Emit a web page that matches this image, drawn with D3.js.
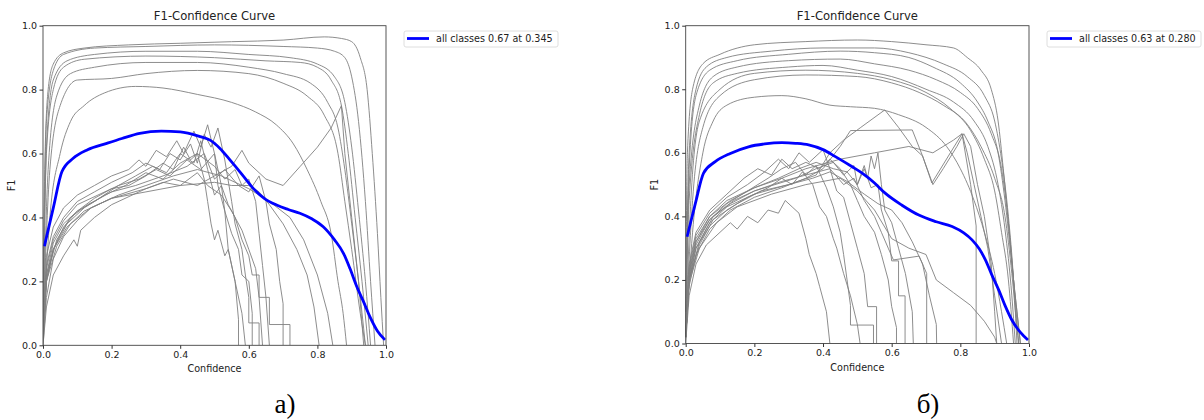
<!DOCTYPE html>
<html>
<head>
<meta charset="utf-8">
<title>F1-Confidence Curves</title>
<script src="https://cdnjs.cloudflare.com/ajax/libs/d3/7.8.5/d3.min.js"></script>
<style>
  body { margin: 0; background: #fff; }
  svg { display: block; }
  .tick text { font-family: "DejaVu Sans", sans-serif; font-size: 9.5px; fill: #222; }
  .tick line { stroke: #333; }
</style>
</head>
<body>
<svg id="chart" width="1204" height="420"></svg>
<script>
// ---- data: [confidence, F1] ----
const ticks = [0, 0.2, 0.4, 0.6, 0.8, 1.0];
const panelLabels = ["а)", "б)"];
const legendA = "all classes 0.67 at 0.345";
const legendB = "all classes 0.63 at 0.280";

const allA = [[0.004,0.31],[0.03,0.43],[0.055,0.543],[0.088,0.585],[0.13,0.612],[0.186,0.632],[0.23,0.647],[0.282,0.663],[0.345,0.67],[0.4,0.668],[0.458,0.653],[0.487,0.642],[0.516,0.616],[0.545,0.58],[0.58,0.535],[0.613,0.491],[0.645,0.46],[0.681,0.439],[0.715,0.425],[0.749,0.413],[0.785,0.395],[0.817,0.371],[0.85,0.33],[0.876,0.288],[0.895,0.24],[0.915,0.183],[0.935,0.135],[0.953,0.09],[0.975,0.045],[0.997,0.017]];

const allB = [[0.004,0.336],[0.028,0.44],[0.052,0.536],[0.086,0.572],[0.13,0.598],[0.183,0.619],[0.23,0.628],[0.28,0.632],[0.32,0.63],[0.358,0.625],[0.4,0.61],[0.436,0.588],[0.485,0.556],[0.514,0.536],[0.55,0.505],[0.581,0.473],[0.63,0.435],[0.679,0.404],[0.73,0.383],[0.776,0.368],[0.81,0.348],[0.834,0.326],[0.855,0.298],[0.873,0.263],[0.892,0.215],[0.912,0.168],[0.93,0.12],[0.95,0.074],[0.975,0.035],[0.997,0.011]];

const classesA = [
  [[0,0.05],[0.005,0.55],[0.015,0.8],[0.03,0.88],[0.06,0.915],[0.12,0.93],[0.25,0.94],[0.4,0.945],[0.55,0.95],[0.7,0.955],[0.82,0.965],[0.87,0.96],[0.9,0.95],[0.925,0.9],[0.945,0.8],[0.96,0.6],[0.975,0.35],[0.985,0.15],[0.993,0]],
  [[0,0.1],[0.01,0.7],[0.03,0.86],[0.06,0.91],[0.15,0.93],[0.3,0.935],[0.5,0.94],[0.7,0.935],[0.8,0.93],[0.85,0.92],[0.88,0.9],[0.9,0.84],[0.92,0.7],[0.94,0.45],[0.955,0.2],[0.968,0]],
  [[0,0.08],[0.01,0.62],[0.03,0.83],[0.07,0.89],[0.15,0.91],[0.3,0.92],[0.45,0.92],[0.6,0.91],[0.72,0.9],[0.8,0.88],[0.85,0.84],[0.88,0.76],[0.9,0.62],[0.92,0.42],[0.94,0.2],[0.955,0]],
  [[0,0.05],[0.01,0.6],[0.03,0.8],[0.06,0.87],[0.12,0.895],[0.3,0.905],[0.5,0.9],[0.65,0.89],[0.75,0.885],[0.8,0.87],[0.84,0.83],[0.87,0.75],[0.89,0.6],[0.91,0.4],[0.93,0.2],[0.948,0]],
  [[0,0.05],[0.015,0.55],[0.04,0.78],[0.08,0.85],[0.15,0.87],[0.3,0.885],[0.45,0.885],[0.6,0.87],[0.7,0.85],[0.78,0.82],[0.83,0.76],[0.86,0.68],[0.88,0.55],[0.9,0.38],[0.92,0.2],[0.94,0]],
  [[0,0.05],[0.02,0.55],[0.05,0.75],[0.1,0.83],[0.2,0.835],[0.3,0.85],[0.45,0.86],[0.6,0.85],[0.7,0.82],[0.77,0.78],[0.82,0.72],[0.86,0.6],[0.88,0.45],[0.9,0.3],[0.925,0.1],[0.94,0]],
  [[0,0.02],[0.02,0.4],[0.05,0.6],[0.08,0.7],[0.12,0.75],[0.18,0.79],[0.27,0.81],[0.35,0.805],[0.45,0.785],[0.55,0.76],[0.62,0.73],[0.68,0.69],[0.73,0.63],[0.77,0.55],[0.81,0.45],[0.84,0.35],[0.86,0.2],[0.875,0.1],[0.885,0]],
  [[0,0.05],[0.01,0.28],[0.03,0.37],[0.06,0.43],[0.1,0.47],[0.15,0.5],[0.2,0.53],[0.25,0.55],[0.28,0.58],[0.3,0.56],[0.33,0.61],[0.36,0.59],[0.39,0.64],[0.41,0.6],[0.44,0.67],[0.46,0.62],[0.48,0.69],[0.5,0.6],[0.51,0.5],[0.53,0.42],[0.54,0.3],[0.56,0.2],[0.57,0.08],[0.57,0]],
  [[0,0.04],[0.01,0.25],[0.03,0.34],[0.06,0.4],[0.1,0.45],[0.15,0.48],[0.2,0.51],[0.26,0.54],[0.3,0.57],[0.34,0.55],[0.37,0.6],[0.4,0.58],[0.43,0.63],[0.45,0.57],[0.47,0.66],[0.49,0.62],[0.51,0.68],[0.53,0.58],[0.55,0.45],[0.56,0.38],[0.58,0.3],[0.59,0.22],[0.6,0.15],[0.6,0.07],[0.63,0.07],[0.63,0]],
  [[0,0.03],[0.01,0.22],[0.03,0.32],[0.06,0.38],[0.1,0.42],[0.15,0.46],[0.2,0.49],[0.25,0.5],[0.3,0.53],[0.35,0.57],[0.38,0.55],[0.41,0.62],[0.43,0.58],[0.45,0.6],[0.47,0.52],[0.48,0.45],[0.49,0.38],[0.5,0.33],[0.51,0.36],[0.53,0.28],[0.54,0.3],[0.56,0.2],[0.58,0.1],[0.59,0]],
  [[0,0.02],[0.01,0.2],[0.03,0.3],[0.06,0.37],[0.1,0.42],[0.15,0.45],[0.22,0.5],[0.28,0.52],[0.33,0.55],[0.37,0.53],[0.42,0.58],[0.46,0.55],[0.5,0.6],[0.52,0.5],[0.54,0.44],[0.56,0.4],[0.58,0.33],[0.6,0.28],[0.61,0.22],[0.63,0.22],[0.63,0.15],[0.66,0.15],[0.66,0.065],[0.72,0.065],[0.72,0]],
  [[0,0.02],[0.01,0.22],[0.03,0.3],[0.07,0.38],[0.12,0.43],[0.18,0.47],[0.24,0.5],[0.3,0.54],[0.35,0.52],[0.4,0.57],[0.45,0.6],[0.5,0.56],[0.53,0.52],[0.56,0.55],[0.58,0.5],[0.6,0.52],[0.62,0.45],[0.63,0.35],[0.64,0.25],[0.65,0.15],[0.66,0]],
  [[0,0.02],[0.01,0.2],[0.03,0.3],[0.07,0.37],[0.12,0.42],[0.2,0.46],[0.3,0.49],[0.38,0.52],[0.45,0.5],[0.55,0.56],[0.58,0.61],[0.6,0.57],[0.65,0.52],[0.7,0.5],[0.75,0.56],[0.8,0.62],[0.84,0.68],[0.87,0.75],[0.88,0.6],[0.9,0.4],[0.92,0.2],[0.935,0]],
  [[0,0],[0.01,0.15],[0.03,0.27],[0.06,0.34],[0.1,0.39],[0.14,0.43],[0.2,0.46],[0.3,0.48],[0.4,0.5],[0.5,0.51],[0.55,0.5],[0.6,0.5],[0.63,0.48],[0.66,0.44],[0.7,0.38],[0.74,0.3],[0.77,0.22],[0.79,0.12],[0.805,0]],
  [[0,0],[0.01,0.12],[0.03,0.22],[0.06,0.28],[0.09,0.33],[0.1,0.31],[0.11,0.36],[0.15,0.4],[0.2,0.44],[0.26,0.47],[0.3,0.49],[0.35,0.51],[0.4,0.5],[0.45,0.54],[0.48,0.5],[0.52,0.47],[0.55,0.42],[0.58,0.36],[0.6,0.3],[0.62,0.24],[0.63,0.15],[0.64,0]],
  [[0,0.03],[0.01,0.24],[0.03,0.33],[0.06,0.39],[0.1,0.44],[0.16,0.47],[0.22,0.5],[0.27,0.53],[0.32,0.56],[0.36,0.54],[0.4,0.6],[0.44,0.57],[0.46,0.64],[0.48,0.55],[0.5,0.47],[0.52,0.5],[0.53,0.42],[0.55,0.35],[0.57,0.3],[0.58,0.22],[0.6,0.2],[0.61,0.1],[0.61,0]],
  [[0,0.02],[0.01,0.21],[0.04,0.33],[0.08,0.4],[0.13,0.44],[0.2,0.48],[0.27,0.5],[0.35,0.53],[0.42,0.56],[0.47,0.6],[0.5,0.52],[0.53,0.55],[0.57,0.5],[0.6,0.48],[0.63,0.53],[0.65,0.45],[0.66,0.38],[0.68,0.3],[0.69,0.2],[0.7,0.13],[0.7,0]],
  [[0,0.02],[0.01,0.2],[0.04,0.31],[0.08,0.38],[0.14,0.43],[0.22,0.47],[0.3,0.5],[0.38,0.53],[0.45,0.55],[0.52,0.53],[0.6,0.49],[0.66,0.45],[0.72,0.4],[0.76,0.33],[0.8,0.22],[0.83,0.1],[0.845,0]]
];

const classesB = [
  [[0,0.1],[0.005,0.6],[0.02,0.8],[0.05,0.88],[0.1,0.91],[0.2,0.94],[0.35,0.95],[0.5,0.955],[0.6,0.95],[0.7,0.94],[0.78,0.93],[0.82,0.9],[0.86,0.86],[0.89,0.8],[0.91,0.7],[0.925,0.55],[0.94,0.38],[0.955,0.2],[0.97,0.05],[0.975,0]],
  [[0,0.1],[0.01,0.6],[0.03,0.8],[0.06,0.87],[0.12,0.9],[0.25,0.92],[0.4,0.93],[0.55,0.93],[0.65,0.915],[0.75,0.88],[0.82,0.84],[0.87,0.78],[0.9,0.7],[0.92,0.58],[0.94,0.4],[0.955,0.2],[0.965,0]],
  [[0,0.08],[0.01,0.55],[0.03,0.78],[0.07,0.86],[0.15,0.89],[0.3,0.91],[0.45,0.92],[0.55,0.915],[0.65,0.9],[0.72,0.87],[0.8,0.82],[0.85,0.76],[0.88,0.7],[0.91,0.6],[0.93,0.45],[0.95,0.25],[0.965,0.1],[0.975,0]],
  [[0,0.06],[0.01,0.5],[0.04,0.75],[0.08,0.84],[0.15,0.87],[0.3,0.89],[0.45,0.895],[0.55,0.88],[0.65,0.86],[0.73,0.83],[0.8,0.79],[0.85,0.74],[0.89,0.66],[0.92,0.55],[0.94,0.38],[0.955,0.2],[0.97,0]],
  [[0,0.05],[0.01,0.45],[0.04,0.72],[0.08,0.82],[0.15,0.85],[0.3,0.87],[0.4,0.875],[0.5,0.86],[0.6,0.84],[0.7,0.8],[0.78,0.76],[0.84,0.7],[0.88,0.62],[0.91,0.5],[0.93,0.36],[0.95,0.15],[0.96,0]],
  [[0,0.05],[0.015,0.45],[0.04,0.7],[0.1,0.8],[0.2,0.85],[0.35,0.86],[0.5,0.85],[0.6,0.83],[0.7,0.79],[0.77,0.74],[0.83,0.67],[0.87,0.58],[0.9,0.48],[0.92,0.35],[0.94,0.2],[0.955,0]],
  [[0,0.04],[0.02,0.45],[0.05,0.68],[0.1,0.78],[0.2,0.83],[0.35,0.845],[0.5,0.84],[0.6,0.82],[0.68,0.79],[0.75,0.75],[0.82,0.69],[0.86,0.62],[0.9,0.52],[0.93,0.4],[0.95,0.22],[0.965,0.05],[0.97,0]],
  [[0,0.02],[0.02,0.35],[0.05,0.6],[0.08,0.7],[0.12,0.75],[0.2,0.775],[0.28,0.78],[0.35,0.77],[0.42,0.75],[0.48,0.745],[0.55,0.74],[0.62,0.72],[0.7,0.68],[0.76,0.62],[0.8,0.55],[0.84,0.45],[0.87,0.35],[0.9,0.22],[0.92,0.1],[0.935,0]],
  [[0,0],[0.01,0.15],[0.03,0.25],[0.06,0.31],[0.1,0.35],[0.13,0.38],[0.15,0.36],[0.18,0.4],[0.21,0.38],[0.24,0.42],[0.27,0.41],[0.29,0.45],[0.31,0.43],[0.33,0.41],[0.35,0.33],[0.36,0.28],[0.38,0.22],[0.39,0.18],[0.41,0.1],[0.42,0]],
  [[0,0.02],[0.01,0.2],[0.03,0.3],[0.07,0.37],[0.12,0.42],[0.18,0.46],[0.24,0.49],[0.28,0.52],[0.31,0.5],[0.34,0.54],[0.37,0.5],[0.39,0.43],[0.41,0.4],[0.43,0.33],[0.44,0.3],[0.46,0.22],[0.48,0.15],[0.5,0.06],[0.508,0]],
  [[0,0.02],[0.01,0.22],[0.03,0.32],[0.07,0.39],[0.12,0.44],[0.18,0.48],[0.24,0.52],[0.28,0.55],[0.32,0.57],[0.35,0.53],[0.38,0.56],[0.41,0.49],[0.43,0.43],[0.45,0.35],[0.46,0.28],[0.47,0.2],[0.48,0.12],[0.48,0.058],[0.547,0.058],[0.547,0]],
  [[0,0.03],[0.01,0.24],[0.03,0.34],[0.07,0.41],[0.12,0.46],[0.18,0.5],[0.23,0.54],[0.27,0.58],[0.3,0.55],[0.33,0.6],[0.36,0.57],[0.4,0.61],[0.42,0.55],[0.44,0.48],[0.46,0.46],[0.48,0.38],[0.5,0.3],[0.52,0.22],[0.53,0.116],[0.556,0.116],[0.556,0]],
  [[0,0.03],[0.01,0.25],[0.03,0.35],[0.07,0.42],[0.12,0.47],[0.17,0.52],[0.21,0.55],[0.25,0.53],[0.28,0.58],[0.31,0.55],[0.35,0.57],[0.39,0.55],[0.42,0.58],[0.45,0.55],[0.48,0.5],[0.5,0.45],[0.52,0.4],[0.55,0.35],[0.57,0.28],[0.59,0.2],[0.6,0.116],[0.614,0.05],[0.614,0]],
  [[0,0.02],[0.01,0.2],[0.04,0.32],[0.08,0.4],[0.14,0.45],[0.2,0.48],[0.26,0.5],[0.32,0.52],[0.38,0.55],[0.43,0.57],[0.46,0.53],[0.49,0.56],[0.5,0.5],[0.52,0.55],[0.54,0.49],[0.56,0.5],[0.57,0.42],[0.59,0.35],[0.6,0.26],[0.62,0.26],[0.62,0.15],[0.639,0.15],[0.639,0]],
  [[0,0.03],[0.01,0.23],[0.03,0.33],[0.07,0.4],[0.12,0.45],[0.2,0.49],[0.27,0.52],[0.33,0.55],[0.38,0.57],[0.43,0.55],[0.47,0.54],[0.5,0.5],[0.52,0.56],[0.53,0.52],[0.54,0.59],[0.55,0.55],[0.56,0.6],[0.57,0.5],[0.58,0.42],[0.6,0.38],[0.62,0.3],[0.64,0.22],[0.66,0.1],[0.663,0]],
  [[0,0.02],[0.01,0.2],[0.03,0.3],[0.07,0.38],[0.12,0.43],[0.2,0.47],[0.3,0.5],[0.38,0.53],[0.42,0.6],[0.46,0.64],[0.51,0.68],[0.58,0.735],[0.62,0.68],[0.66,0.62],[0.69,0.59],[0.72,0.5],[0.75,0.55],[0.79,0.62],[0.81,0.66],[0.83,0.62],[0.85,0.5],[0.87,0.4],[0.89,0.25],[0.9,0.1],[0.906,0]],
  [[0,0.02],[0.01,0.18],[0.03,0.28],[0.07,0.36],[0.13,0.42],[0.2,0.46],[0.28,0.49],[0.35,0.52],[0.4,0.55],[0.45,0.62],[0.48,0.67],[0.66,0.672],[0.69,0.59],[0.717,0.505],[0.805,0.66],[0.82,0.6],[0.84,0.5],[0.86,0.4],[0.88,0.3],[0.9,0.15],[0.92,0]],
  [[0,0.02],[0.01,0.21],[0.03,0.31],[0.07,0.39],[0.13,0.44],[0.2,0.48],[0.28,0.51],[0.35,0.53],[0.42,0.55],[0.46,0.5],[0.49,0.52],[0.52,0.45],[0.55,0.4],[0.57,0.35],[0.59,0.3],[0.605,0.263],[0.68,0.275],[0.702,0.22],[0.702,0]],
  [[0,0.02],[0.01,0.2],[0.04,0.31],[0.08,0.39],[0.15,0.44],[0.22,0.48],[0.3,0.5],[0.37,0.52],[0.42,0.54],[0.47,0.51],[0.52,0.47],[0.56,0.44],[0.6,0.42],[0.63,0.38],[0.66,0.32],[0.69,0.25],[0.71,0.15],[0.73,0.06],[0.731,0]],
  [[0,0.02],[0.01,0.22],[0.03,0.32],[0.07,0.4],[0.13,0.45],[0.2,0.49],[0.28,0.52],[0.35,0.55],[0.45,0.58],[0.55,0.6],[0.65,0.62],[0.72,0.6],[0.78,0.64],[0.805,0.66],[0.83,0.5],[0.846,0.37],[0.846,0]],
  [[0,0.02],[0.01,0.19],[0.04,0.3],[0.09,0.38],[0.15,0.43],[0.25,0.47],[0.35,0.5],[0.45,0.52],[0.5,0.48],[0.55,0.42],[0.6,0.33],[0.65,0.3],[0.7,0.28],[0.73,0.2],[0.78,0.16],[0.83,0.12],[0.87,0.07],[0.9,0.02],[0.906,0]]
];

const svg = d3.select('#chart');
const font = '"DejaVu Sans", sans-serif';

// smooth only the high, monotone-in-x plateau curves; jagged ones stay linear
function isSmooth(pts) {
  for (let i = 1; i < pts.length; i++) if (pts[i][0] <= pts[i - 1][0]) return false;
  return d3.max(pts, d => d[1]) > 0.77;
}

function drawPanel(box, classes, all, legendText, label) {
  const x = d3.scaleLinear().domain([0, 1]).range([box.left, box.right]);
  const y = d3.scaleLinear().domain([0, 1]).range([box.bottom, box.top]);
  const g = svg.append('g');

  const straight = d3.line().x(d => x(d[0])).y(d => y(d[1]));
  const smooth = d3.line().x(d => x(d[0])).y(d => y(d[1])).curve(d3.curveMonotoneX);

  const clipId = 'clip' + Math.round(box.left);
  g.append('clipPath').attr('id', clipId)
    .append('rect')
    .attr('x', box.left).attr('y', box.top - 2)
    .attr('width', box.right - box.left).attr('height', box.bottom - box.top + 2);

  const plot = g.append('g').attr('clip-path', `url(#${clipId})`);

  // per-class curves
  plot.selectAll('path.cls')
    .data(classes)
    .join('path')
    .attr('class', 'cls')
    .attr('d', d => isSmooth(d) ? smooth(d) : straight(d))
    .attr('fill', 'none')
    .attr('stroke', '#808080')
    .attr('stroke-width', 0.9);

  // all classes curve
  plot.append('path')
    .datum(all)
    .attr('d', smooth)
    .attr('fill', 'none')
    .attr('stroke', '#0000ff')
    .attr('stroke-width', 2.8)
    .attr('stroke-linejoin', 'round');

  // frame
  g.append('rect')
    .attr('x', box.left).attr('y', box.top)
    .attr('width', box.right - box.left).attr('height', box.bottom - box.top)
    .attr('fill', 'none').attr('stroke', '#444').attr('stroke-width', 0.9);

  // axes
  g.append('g')
    .attr('transform', `translate(0,${box.bottom})`)
    .call(d3.axisBottom(x).tickValues(ticks).tickFormat(d3.format('.1f')).tickSize(3.5).tickSizeOuter(0).tickPadding(2))
    .call(a => a.select('.domain').remove());
  g.append('g')
    .attr('transform', `translate(${box.left},0)`)
    .call(d3.axisLeft(y).tickValues(ticks).tickFormat(d3.format('.1f')).tickSize(3.5).tickSizeOuter(0).tickPadding(2.5))
    .call(a => a.select('.domain').remove());

  const cx = (box.left + box.right) / 2;
  g.append('text')
    .attr('x', cx).attr('y', 20)
    .attr('text-anchor', 'middle')
    .style('font-family', font).style('font-size', '11.6px').attr('fill', '#222')
    .text('F1-Confidence Curve');

  g.append('text')
    .attr('x', cx).attr('y', box.bottom + 27)
    .attr('text-anchor', 'middle')
    .style('font-family', font).style('font-size', '9.6px').attr('fill', '#222')
    .text('Confidence');

  g.append('text')
    .attr('transform', `translate(${box.left - 28},${(box.top + box.bottom) / 2}) rotate(-90)`)
    .attr('text-anchor', 'middle')
    .style('font-family', font).style('font-size', '9.6px').attr('fill', '#222')
    .text('F1');

  // legend
  const lx = box.right + 18;
  g.append('rect')
    .attr('x', lx).attr('y', 31)
    .attr('width', 154).attr('height', 16).attr('rx', 2)
    .attr('fill', '#fff').attr('stroke', '#d6d6d6').attr('stroke-width', 0.8);
  g.append('line')
    .attr('x1', lx + 3).attr('x2', lx + 25).attr('y1', 38.5).attr('y2', 38.5)
    .attr('stroke', '#0000ff').attr('stroke-width', 2.8);
  g.append('text')
    .attr('x', lx + 32).attr('y', 42)
    .style('font-family', font).style('font-size', '9.6px').attr('fill', '#222')
    .text(legendText);

  // panel label
  svg.append('text')
    .attr('x', box.labelX).attr('y', 413)
    .attr('text-anchor', 'middle')
    .style('font-family', '"Liberation Serif", "Times New Roman", serif').style('font-size', '27px').attr('fill', '#000')
    .text(label);
}

drawPanel({ left: 43, right: 386, top: 25.7, bottom: 345.3, labelX: 285 }, classesA, allA, legendA, panelLabels[0]);
drawPanel({ left: 685.7, right: 1029, top: 25.7, bottom: 343.5, labelX: 928 }, classesB, allB, legendB, panelLabels[1]);
</script>
</body>
</html>
